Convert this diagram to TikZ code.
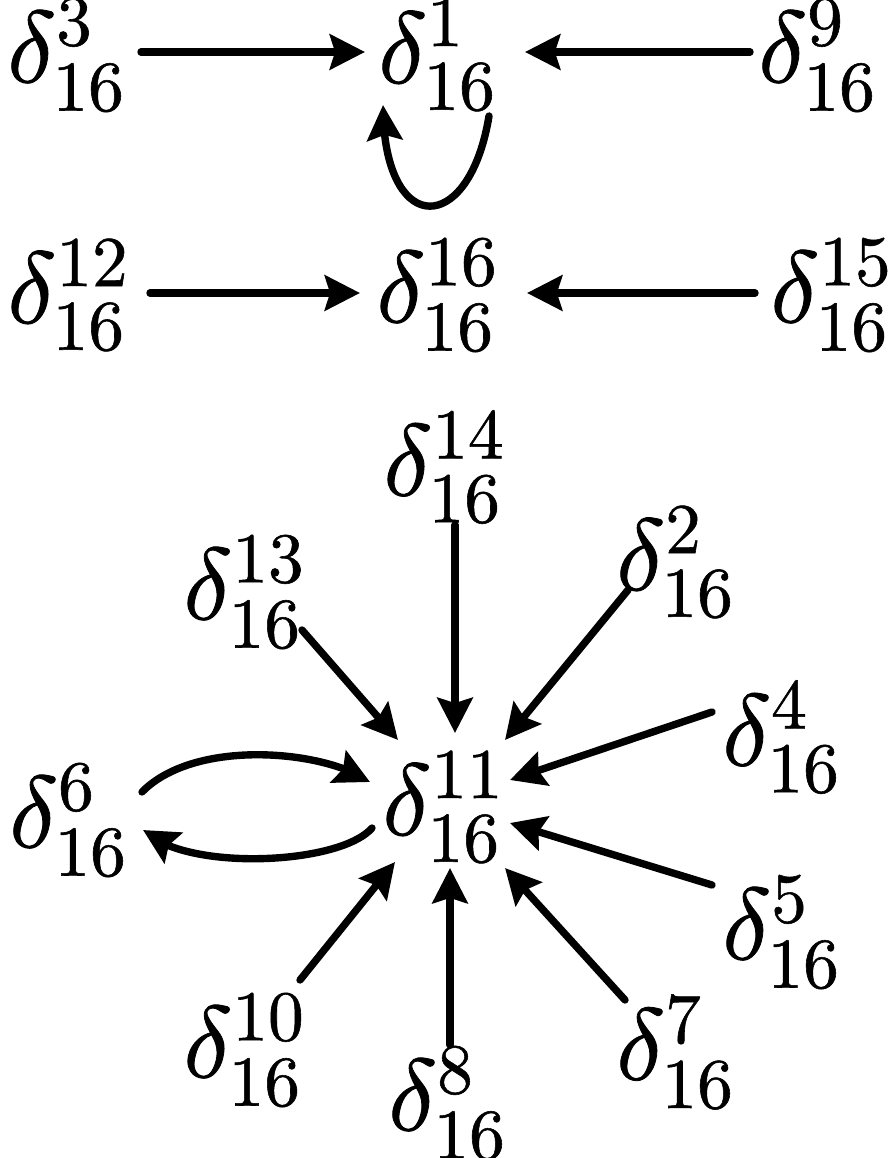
\documentclass[tikz,border=0pt]{standalone}
\usepackage{unicode-math}
\setmathfont{Latin Modern Math}[FakeBold=0.8]
\usetikzlibrary{arrows.meta,bending,calc}
\tikzset{
  lbl/.style={inner sep=0pt, font=\fontsize{58}{62}\selectfont},
  arr/.style={line width=4.2pt, line cap=round,
    -{Stealth[length=20pt,width=20pt,inset=3pt,flex]}},
}
\begin{document}
\begin{tikzpicture}[x=0.02cm,y=-0.02cm]
\useasboundingbox (0,0) rectangle (894,1158);
% top rows
\node[lbl] (n3)  at (66,55)  {$\delta^{3}_{16}$};
\node[lbl] (n1)  at (437,55) {$\delta^{1}_{16}$};
\node[lbl] (n9)  at (817,55) {$\delta^{9}_{16}$};
\node[lbl] (n12) at (68,295) {$\delta^{12}_{16}$};
\node[lbl] (n16) at (437,295) {$\delta^{16}_{16}$};
\node[lbl] (n15) at (831,295) {$\delta^{15}_{16}$};
% star
\node[lbl] (n14) at (444,467) {$\delta^{14}_{16}$};
\node[lbl] (n13) at (244,592) {$\delta^{13}_{16}$};
\node[lbl] (n2)  at (675,562) {$\delta^{2}_{16}$};
\node[lbl] (n4)  at (781,737) {$\delta^{4}_{16}$};
\node[lbl] (n11) at (443,807) {$\delta^{11}_{16}$};
\node[lbl] (n6)  at (68,820)  {$\delta^{6}_{16}$};
\node[lbl] (n5)  at (781,932) {$\delta^{5}_{16}$};
\node[lbl] (n10) at (244,1050) {$\delta^{10}_{16}$};
\node[lbl] (n8)  at (447,1103) {$\delta^{8}_{16}$};
\node[lbl] (n7)  at (675,1052) {$\delta^{7}_{16}$};
% horizontal arrows
\draw[arr] ($(n3)+(75,-3)$) -- ($(n1)+(-72,-3)$);
\draw[arr] ($(n9)+(-67,-3)$) -- ($(n1)+(88,-3)$);
\draw[arr] ($(n12)+(82,-2)$) -- ($(n16)+(-77,-2)$);
\draw[arr] ($(n15)+(-76,-2)$) -- ($(n16)+(90,-2)$);
% self loop
\draw[arr] ($(n1)+(52,61)$) .. controls ($(n1)+(32,183)$) and ($(n1)+(-54,183)$) .. ($(n1)+(-54,50)$);
% radial arrows
\draw[arr] ($(n14)+(11,58)$) -- ($(n11)+(12,-74)$);
\draw[arr] ($(n13)+(58,38)$) -- ($(n11)+(-45,-67)$);
\draw[arr] ($(n2)+(-47,28)$) -- ($(n11)+(62,-67)$);
\draw[arr] ($(n4)+(-69,-25)$) -- ($(n11)+(67,-27)$);
\draw[arr] ($(n5)+(-69,-47)$) -- ($(n11)+(67,16)$);
\draw[arr] ($(n7)+(-50,-52)$) -- ($(n11)+(62,61)$);
\draw[arr] ($(n8)+(3,-58)$) -- ($(n11)+(7,61)$);
\draw[arr] ($(n10)+(56,-70)$) -- ($(n11)+(-48,55)$);
% two arcs between n6 and n11
\draw[arr] ($(n6)+(74,-28)$) .. controls ($(n6)+(127,-82)$) and ($(n11)+(-118,-57)$) .. ($(n11)+(-73,-25)$);
\draw[arr] ($(n11)+(-71,21)$) .. controls ($(n11)+(-103,58)$) and ($(n6)+(117,52)$) .. ($(n6)+(75,10)$);
\end{tikzpicture}
\end{document}
